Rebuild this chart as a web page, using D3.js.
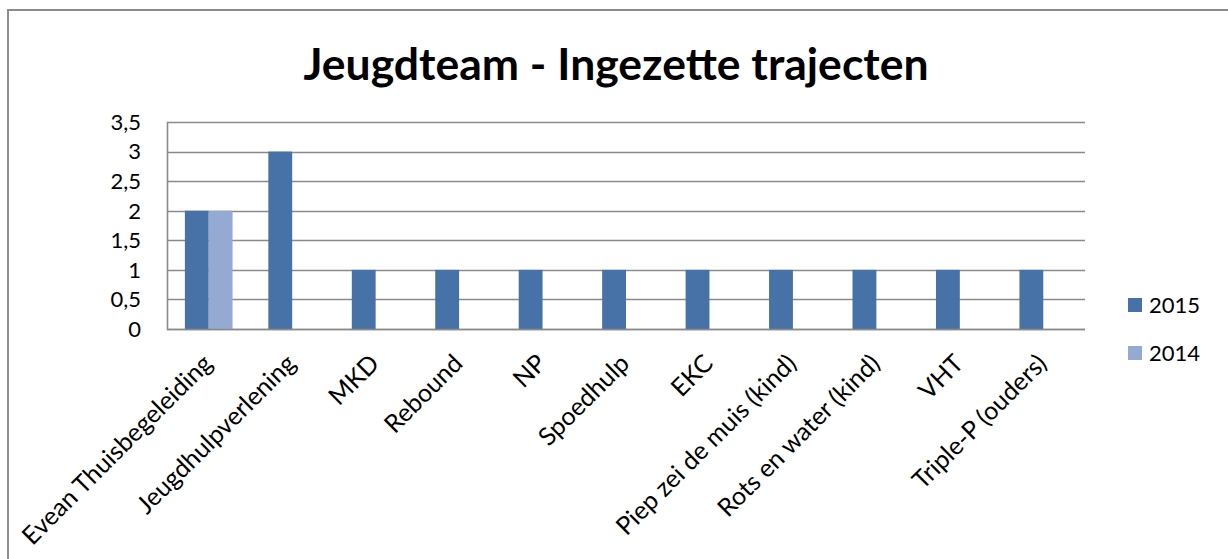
<!DOCTYPE html>
<html>
<head>
<meta charset="utf-8">
<script src="https://cdn.jsdelivr.net/npm/d3@7"></script>
<style>
  html, body { margin: 0; padding: 0; background: #fff; overflow: hidden; }
  svg { display: block; font-family: Lato, "Open Sans", sans-serif; }
</style>
</head>
<body>
<div id="chart"></div>
<script>
// jeugdteam bars, two years side by side

const categories = [
  "Evean Thuisbegeleiding",
  "Jeugdhulpverlening",
  "MKD",
  "Rebound",
  "NP",
  "Spoedhulp",
  "EKC",
  "Piep zei de muis (kind)",
  "Rots en water (kind)",
  "VHT",
  "Triple-P (ouders)"
];

const years = ["2015", "2014"];

const values2015 = [2, 3, 1, 1, 1, 1, 1, 1, 1, 1, 1];
const values2014 = [2, null, null, null, null, null, null, null, null, null, null];

const yTicks = [0, 0.5, 1, 1.5, 2, 2.5, 3, 3.5];

const colors = { "2015": "#4672a8", "2014": "#95aad2" };

const W = 1228, H = 559;

const svg = d3.select("#chart").append("svg")
  .attr("width", W)
  .attr("height", H);

// outer chart frame, runs off the right and bottom
svg.append("rect")
  .attr("x", 8)
  .attr("y", 10)
  .attr("width", W + 20)
  .attr("height", H + 20)
  .attr("fill", "none")
  .attr("stroke", "#8c8c8c")
  .attr("stroke-width", 2);

// title
svg.append("text")
  .attr("x", 616)
  .attr("y", 80)
  .attr("text-anchor", "middle")
  .attr("font-size", 44.5)
  .attr("font-weight", 700)
  .attr("fill", "#000")
  .text("Jeugdteam - Ingezette trajecten");

const plot = { left: 167, right: 1085, top: 122, bottom: 329 };

const x = d3.scaleBand()
  .domain(categories)
  .range([plot.left, plot.right])
  .padding(0);

const xi = d3.scaleBand()
  .domain(years)
  .range([0, x.bandwidth()])
  .paddingInner(0)
  .paddingOuter(0.75);

const y = d3.scaleLinear()
  .domain([0, 3.5])
  .range([plot.bottom, plot.top]);

const fmt = d => String(d).replace(".", ",");

// gridlines
svg.append("g")
  .selectAll("line")
  .data(yTicks)
  .join("line")
  .attr("x1", plot.left)
  .attr("x2", plot.right)
  .attr("y1", d => Math.round(y(d)) + 0.5)
  .attr("y2", d => Math.round(y(d)) + 0.5)
  .attr("stroke", "#8a8a8a")
  .attr("stroke-width", 1.4);

// y tick labels
svg.append("g")
  .selectAll("text")
  .data(yTicks)
  .join("text")
  .attr("x", 141)
  .attr("y", d => y(d))
  .attr("dy", "0.36em")
  .attr("text-anchor", "end")
  .attr("font-size", 22)
  .attr("fill", "#000")
  .text(fmt);

// bars
const rows = [];
categories.forEach((c, i) => {
  rows.push({ cat: c, year: "2015", v: values2015[i] });
  rows.push({ cat: c, year: "2014", v: values2014[i] });
});

svg.append("g")
  .selectAll("rect")
  .data(rows.filter(d => d.v != null))
  .join("rect")
  .attr("x", d => x(d.cat) + xi(d.year))
  .attr("y", d => y(d.v))
  .attr("width", xi.bandwidth())
  .attr("height", d => y(0) - y(d.v))
  .attr("fill", d => colors[d.year]);

// axis lines
svg.append("line")
  .attr("x1", plot.left + 0.5).attr("x2", plot.left + 0.5)
  .attr("y1", plot.top).attr("y2", plot.bottom + 1)
  .attr("stroke", "#8a8a8a").attr("stroke-width", 1.6);

svg.append("line")
  .attr("x1", plot.left).attr("x2", plot.right)
  .attr("y1", Math.round(y(0)) + 0.5).attr("y2", Math.round(y(0)) + 0.5)
  .attr("stroke", "#8a8a8a").attr("stroke-width", 1.6);

// x labels, rotated
svg.append("g")
  .selectAll("text")
  .data(categories)
  .join("text")
  .attr("transform", d => `translate(${x(d) + x.bandwidth() / 2 + 5},365) rotate(-45)`)
  .attr("text-anchor", "end")
  .attr("font-size", 25)
  .attr("fill", "#000")
  .text(d => d);

// legend
const leg = svg.append("g").attr("transform", "translate(1128,298)");
years.forEach((yr, i) => {
  leg.append("rect")
    .attr("x", 0)
    .attr("y", i * 48)
    .attr("width", 14)
    .attr("height", 14)
    .attr("fill", colors[yr]);
  leg.append("text")
    .attr("x", 21)
    .attr("y", i * 48 + 7)
    .attr("dy", "0.36em")
    .attr("font-size", 22)
    .attr("fill", "#000")
    .text(yr);
});
</script>
</body>
</html>
